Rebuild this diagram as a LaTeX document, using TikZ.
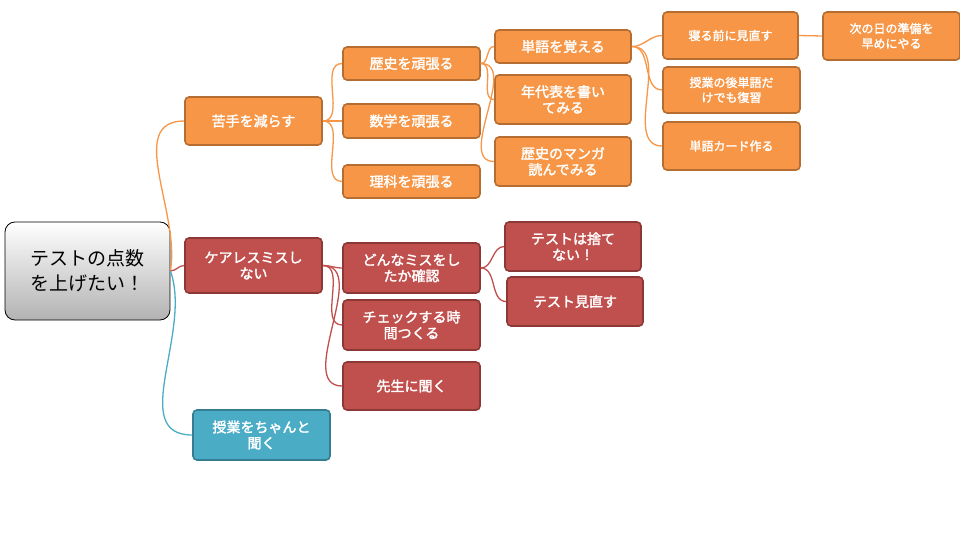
\documentclass[tikz,border=0pt]{standalone}
\usepackage{fontspec}
\setmainfont{Noto Sans CJK JP}
\newfontfamily\jpbold[FakeBold=2]{Noto Sans CJK JP}
\definecolor{orfill}{HTML}{F79646}
\definecolor{ordraw}{HTML}{B66D31}
\definecolor{rdfill}{HTML}{C0504D}
\definecolor{rddraw}{HTML}{8C3836}
\definecolor{tlfill}{HTML}{4BACC6}
\definecolor{tldraw}{HTML}{357D91}
\begin{document}
\begin{tikzpicture}[x=1pt,y=-1pt,
  box/.style={rounded corners=4pt,line width=1.6pt,text=white,align=center,
    font=\jpbold\fontsize{14}{16}\selectfont,inner sep=0pt},
  obox/.style={box,fill=orfill,draw=ordraw},
  rbox/.style={box,fill=rdfill,draw=rddraw},
  tbox/.style={box,fill=tlfill,draw=tldraw},
  small/.style={font=\jpbold\fontsize{12}{15}\selectfont},
  ol/.style={draw=orfill,line width=1.3pt},
  rl/.style={draw=rdfill,line width=1.3pt},
  tl/.style={draw=tlfill,line width=1.3pt}]
\useasboundingbox (0,0) rectangle (960,540);
% root
\node[rounded corners=10pt,draw=black,line width=0.8pt,top color=white,bottom color=black!30,
  minimum width=165pt,minimum height=98pt,align=center,
  font=\fontsize{19}{25}\selectfont] (root) at (87.5,271) {テストの点数\\を上げたい！};
% level one
\node[obox,minimum width=137pt,minimum height=48pt] (nigate) at (253.5,121) {苦手を減らす};
\node[rbox,minimum width=137pt,minimum height=55pt] (care) at (253.5,265.5) {ケアレスミスし\\ない};
\node[tbox,minimum width=137pt,minimum height=50pt] (jugyo) at (261.5,435) {授業をちゃんと\\聞く};
% level two
\node[obox,minimum width=137pt,minimum height=33pt] (reki) at (411.5,63.5) {歴史を頑張る};
\node[obox,minimum width=137pt,minimum height=34pt] (suga) at (411.5,121) {数学を頑張る};
\node[obox,minimum width=137pt,minimum height=33pt] (rika) at (411.5,181.5) {理科を頑張る};
\node[rbox,minimum width=137pt,minimum height=50pt] (donna) at (411.5,268) {どんなミスをし\\たか確認};
\node[rbox,minimum width=137pt,minimum height=50pt] (check) at (411.5,325) {チェックする時\\間つくる};
\node[rbox,minimum width=137pt,minimum height=48pt] (sensei) at (411.5,386) {先生に聞く};
% level three
\node[obox,minimum width=136pt,minimum height=33pt] (tango) at (563,46.5) {単語を覚える};
\node[obox,minimum width=136pt,minimum height=49pt] (nendai) at (563,99.5) {年代表を書い\\てみる};
\node[obox,minimum width=136pt,minimum height=49pt] (manga) at (563,161.5) {歴史のマンガ\\読んでみる};
\node[rbox,minimum width=136pt,minimum height=49pt] (sute) at (573,246.5) {テストは捨て\\ない！};
\node[rbox,minimum width=136pt,minimum height=49pt] (minao) at (575,301.5) {テスト見直す};
% level four
\node[obox,small,minimum width=135pt,minimum height=47pt] (neru) at (730.5,35.5) {寝る前に見直す};
\node[obox,small,minimum width=137pt,minimum height=46pt] (fuku) at (731.5,90) {授業の後単語だ\\けでも復習};
\node[obox,small,minimum width=137pt,minimum height=48pt] (card) at (731.5,146) {単語カード作る};
\node[obox,small,minimum width=137pt,minimum height=48pt] (junbi) at (891.5,36) {次の日の準備を\\早めにやる};
% connectors
\begin{scope}[on background layer/.style={}]
\end{scope}
\path[ol] (root.east) to[out=80,in=180] (nigate.west);
\path[rl] (root.east) to[out=0,in=180] (care.west);
\path[tl] (root.east) to[out=-70,in=180] (jugyo.west);
\foreach \c in {reki,suga,rika} \path[ol] (nigate.east) to[out=0,in=180] (\c.west);
\foreach \c in {donna,check,sensei} \path[rl] (care.east) to[out=0,in=180] (\c.west);
\foreach \c in {tango,nendai,manga} \path[ol] (reki.east) to[out=0,in=180] (\c.west);
\foreach \c in {sute,minao} \path[rl] (donna.east) to[out=0,in=180] (\c.west);
\foreach \c in {neru,fuku,card} \path[ol] (tango.east) to[out=0,in=180] (\c.west);
\path[ol] (neru.east) -- (junbi.west);
\end{tikzpicture}
\end{document}
